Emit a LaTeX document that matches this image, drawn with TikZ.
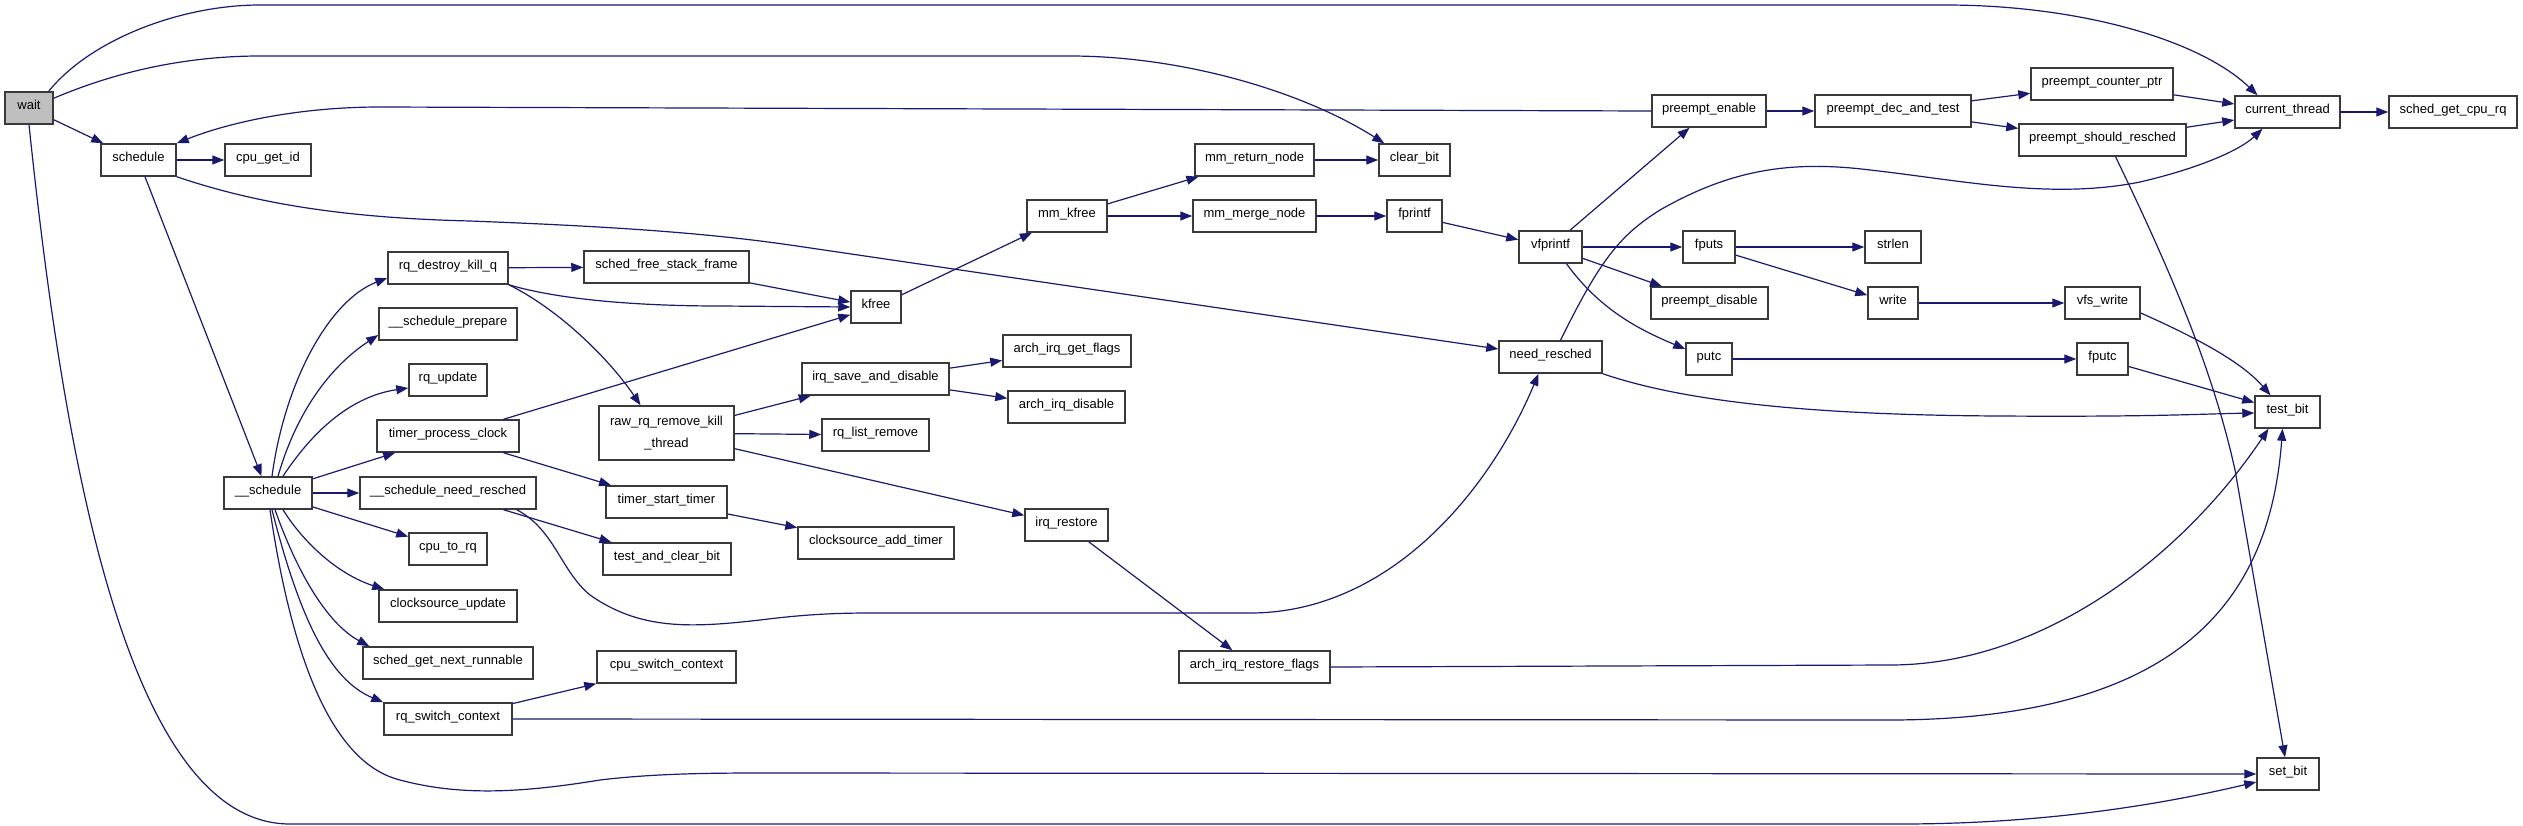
\documentclass[tikz,border=0pt]{standalone}
\usepackage{fontspec}
\setmainfont{Liberation Sans}
\usetikzlibrary{arrows.meta}
\definecolor{edgeblue}{HTML}{191970}
\definecolor{boxline}{HTML}{3A3A3A}
\definecolor{waitfill}{HTML}{BFBFBF}
\begin{document}
\begin{tikzpicture}[x=1pt,y=-1pt,
  boxbase/.style={draw=boxline, line width=1.5pt, fill=white, minimum height=32pt, inner sep=0pt,
    font=\fontsize{13}{15}\selectfont},
  box/.style={boxbase, text height=7pt, text depth=3.5pt},
  edge/.style={draw=edgeblue, line width=1.2pt, -{Triangle[length=12pt,width=9pt]}}]
\useasboundingbox (0,0) rectangle (2523,825);
% nodes
\node[box, fill=waitfill, minimum width=48pt] (wait) at (29,108) {wait};
\node[box, minimum width=75pt] (sched) at (138.5,160) {schedule};
\node[box, minimum width=86pt] (cpuid) at (268,160) {cpu\_get\_id};
\node[box, minimum width=88pt] (s2) at (268,493) {\_\_schedule};
\node[box, minimum width=120pt] (rqd) at (448,268) {rq\_destroy\_kill\_q};
\node[box, minimum width=138pt] (sprep) at (448,324) {\_\_schedule\_prepare};
\node[box, minimum width=78pt] (rqu) at (448,380) {rq\_update};
\node[box, minimum width=142pt] (tpc) at (448,436) {timer\_process\_clock};
\node[box, minimum width=176pt] (snr) at (448,493) {\_\_schedule\_need\_resched};
\node[box, minimum width=78pt] (ctr) at (448,549) {cpu\_to\_rq};
\node[box, minimum width=138pt] (csu) at (448,606) {clocksource\_update};
\node[box, minimum width=170pt] (sgnr) at (448,663) {sched\_get\_next\_runnable};
\node[box, minimum width=128pt] (rqsc) at (448,719) {rq\_switch\_context};
\node[box, minimum width=165pt] (sfsf) at (666.5,267) {sched\_free\_stack\_frame};
\node[boxbase, minimum width=135pt, minimum height=54pt, align=center, font=\fontsize{13}{22}\selectfont] (raw) at (666.5,433) {raw\_rq\_remove\_kill\\\_thread};
\node[box, minimum width=121pt] (tst) at (666.5,502) {timer\_start\_timer};
\node[box, minimum width=128pt] (tacb) at (667,559) {test\_and\_clear\_bit};
\node[box, minimum width=139pt] (csc) at (666.5,667) {cpu\_switch\_context};
\node[box, minimum width=50pt] (kfree) at (876,307) {kfree};
\node[box, minimum width=147pt] (isad) at (875.5,379) {irq\_save\_and\_disable};
\node[box, minimum width=107pt] (rql) at (875.5,435) {rq\_list\_remove};
\node[box, minimum width=156pt] (csat) at (876,543) {clocksource\_add\_timer};
\node[box, minimum width=80pt] (mmk) at (1067,216) {mm\_kfree};
\node[box, minimum width=128pt] (aigf) at (1067,351) {arch\_irq\_get\_flags};
\node[box, minimum width=117pt] (aid) at (1066.5,407) {arch\_irq\_disable};
\node[box, minimum width=83pt] (irqr) at (1066.5,525) {irq\_restore};
\node[box, minimum width=119pt] (mrn) at (1254.5,160) {mm\_return\_node};
\node[box, minimum width=123pt] (mmn) at (1254.5,216) {mm\_merge\_node};
\node[box, minimum width=151pt] (airf) at (1254.5,667) {arch\_irq\_restore\_flags};
\node[box, minimum width=71pt] (clrb) at (1414.5,160) {clear\_bit};
\node[box, minimum width=55pt] (fpf) at (1414.5,216) {fprintf};
\node[box, minimum width=63pt] (vfpf) at (1550.5,247) {vfprintf};
\node[box, minimum width=103pt] (nr) at (1550.5,357) {need\_resched};
\node[box, minimum width=114pt] (pe) at (1709,111) {preempt\_enable};
\node[box, minimum width=52pt] (fputs) at (1709,247) {fputs};
\node[box, minimum width=117pt] (pdis) at (1709.5,303) {preempt\_disable};
\node[box, minimum width=46pt] (putc) at (1709,359) {putc};
\node[box, minimum width=156pt] (pdat) at (1893,111) {preempt\_dec\_and\_test};
\node[box, minimum width=56pt] (strlen) at (1893,247) {strlen};
\node[box, minimum width=50pt] (write) at (1893,303) {write};
\node[box, minimum width=142pt] (pcp) at (2102,84) {preempt\_counter\_ptr};
\node[box, minimum width=167pt] (psr) at (2102.5,140) {preempt\_should\_resched};
\node[box, minimum width=75pt] (vfsw) at (2102.5,303) {vfs\_write};
\node[box, minimum width=51pt] (fputc) at (2102.5,359) {fputc};
\node[box, minimum width=105pt] (ct) at (2287.5,112) {current\_thread};
\node[box, minimum width=65pt] (testb) at (2287.5,412) {test\_bit};
\node[box, minimum width=62pt] (setb) at (2288,774) {set\_bit};
\node[box, minimum width=128pt] (sgcr) at (2453,112) {sched\_get\_cpu\_rq};
% straight edges
\foreach \a/\b in {wait/sched, sched/cpuid, sched/s2, s2/tpc, s2/snr, s2/ctr, rqd/sfsf,
  sfsf/kfree, tpc/kfree, tpc/tst, tst/csat, snr/tacb, raw/isad, raw/rql, raw/irqr,
  isad/aigf, isad/aid, irqr/airf, rqsc/csc, kfree/mmk, mmk/mrn, mmk/mmn, mrn/clrb,
  mmn/fpf, fpf/vfpf, vfpf/pe, vfpf/fputs, vfpf/pdis, fputs/strlen, fputs/write,
  write/vfsw, putc/fputc, fputc/testb, pe/pdat, pdat/pcp, pdat/psr, pcp/ct, psr/ct, ct/sgcr}
  \draw[edge] (\a) -- (\b);
% curved edges
\draw[edge] ([xshift=-5pt]wait.north east) .. controls (90,40) and (180,5) .. (260,5) -- (1945,5) .. controls (2080,5) and (2200,40) .. ([xshift=-30pt]ct.north);
\draw[edge] ([yshift=-7pt]wait.north east) .. controls (120,70) and (190,56) .. (260,56) -- (1070,56) .. controls (1180,56) and (1300,90) .. ([xshift=6pt]clrb.north west);
\draw[edge] (wait.south) .. controls (60,420) and (120,824) .. (290,824) -- (1900,824) .. controls (2060,824) and (2180,800) .. ([yshift=-8pt]setb.west);
\draw[edge] (pe.west) -- (380,107) .. controls (300,107) and (230,122) .. (sched.north east);
\draw[edge] (sched.south east) .. controls (260,205) and (350,218) .. (470,221) .. controls (600,226) and (700,232) .. (790,245) -- ([yshift=8pt]nr.west);
\draw[edge] ([xshift=4pt]s2.north) .. controls (285,380) and (330,300) .. ([yshift=-10pt]rqd.west);
\draw[edge] ([xshift=10pt]s2.north) .. controls (300,400) and (340,360) .. ([yshift=-11pt]sprep.west);
\draw[edge] ([xshift=15pt]s2.north) .. controls (320,420) and (360,395) .. ([yshift=-8pt]rqu.west);
\draw[edge] ([xshift=15pt]s2.south) .. controls (305,545) and (340,575) .. ([xshift=6pt]csu.north west);
\draw[edge] ([xshift=7pt]s2.south) .. controls (300,580) and (330,625) .. ([xshift=7pt]sgnr.north west);
\draw[edge] ([xshift=4pt]s2.south) .. controls (300,620) and (330,680) .. (rqsc.north west);
\draw[edge] ([xshift=2pt]s2.south) .. controls (295,680) and (340,765) .. (400,780) .. controls (460,796) and (520,793) .. (600,780) .. controls (650,774) and (700,773) .. (760,773) -- (setb.west);
\draw[edge] (rqd.south east) .. controls (560,300) and (640,306) .. (720,306) -- (kfree.west);
\draw[edge] (rqd.south east) .. controls (560,310) and (610,360) .. ([xshift=-26pt]raw.north);
\draw[edge] ([xshift=-20pt]snr.south east) .. controls (555,530) and (560,570) .. (590,595) .. controls (640,630) and (690,628) .. (760,620) .. controls (800,615) and (830,613) .. (870,613) -- (1250,613) .. controls (1390,613) and (1490,490) .. ([xshift=-12pt]nr.south);
\draw[edge] (nr.south east) .. controls (1680,400) and (1800,415) .. (2000,416) .. controls (2150,417) and (2200,414) .. ([yshift=-1pt]testb.west);
\draw[edge] ([xshift=10pt]nr.north) .. controls (1600,260) and (1620,235) .. (1660,210) .. controls (1730,170) and (1790,160) .. (1870,170) .. controls (1960,180) and (2050,200) .. (2140,182) .. controls (2200,168) and (2240,150) .. ([xshift=-25pt]ct.south);
\draw[edge] ([xshift=16pt]vfpf.south) .. controls (1600,310) and (1640,330) .. ([yshift=10pt]putc.west);
\draw[edge] ([yshift=-10pt]vfsw.east) .. controls (2190,335) and (2240,360) .. ([xshift=-17pt]testb.north);
\draw[edge] (rqsc.east) -- (1880,720) .. controls (2180,722) and (2270,600) .. ([xshift=-5pt]testb.south);
\draw[edge] (airf.east) -- (1890,665) .. controls (2040,665) and (2180,560) .. ([xshift=-19pt]testb.south);
\draw[edge] ([xshift=13pt]psr.south) .. controls (2180,290) and (2215,380) .. (2235,470) -- ([xshift=-3pt]setb.north);
\end{tikzpicture}
\end{document}
